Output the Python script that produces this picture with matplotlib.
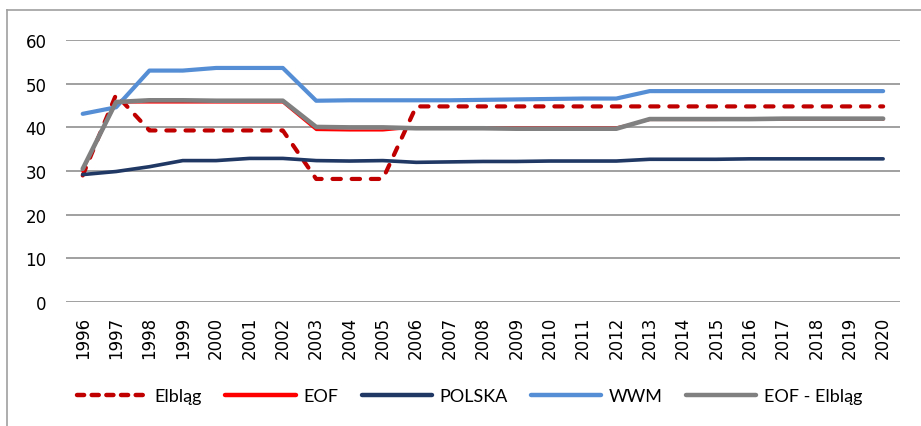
import matplotlib.pyplot as plt
from matplotlib.lines import Line2D

years = [str(y) for y in range(1996, 2021)]

elblag = [29.0, 47.5, 39.3, 39.3, 39.3, 39.3, 39.3, 28.2, 28.2, 28.2,
          44.8, 44.8, 44.8, 44.8, 44.8, 44.8, 44.8, 44.8, 44.8, 44.8,
          44.8, 44.8, 44.8, 44.8, 44.8]
eof = [30.0, 45.7, 45.7, 45.7, 45.7, 45.7, 45.7, 39.4, 39.3, 39.3,
       40.0, 40.0, 40.0, 40.0, 40.0, 40.0, 40.0, 41.7, 41.7, 41.7,
       41.8, 41.8, 41.8, 41.8, 41.8]
polska = [29.2, 29.9, 31.0, 32.4, 32.4, 32.9, 32.9, 32.4, 32.3, 32.4,
          32.0, 32.1, 32.2, 32.2, 32.3, 32.3, 32.3, 32.7, 32.7, 32.7,
          32.8, 32.8, 32.8, 32.8, 32.8]
wwm = [43.1, 44.6, 53.0, 53.0, 53.6, 53.6, 53.6, 46.1, 46.2, 46.2,
       46.2, 46.2, 46.3, 46.4, 46.5, 46.6, 46.6, 48.3, 48.3, 48.3,
       48.3, 48.3, 48.3, 48.3, 48.3]
eof_elblag = [30.5, 45.8, 46.2, 46.2, 46.1, 46.1, 46.1, 40.1, 40.0, 40.0,
              39.8, 39.8, 39.8, 39.7, 39.7, 39.7, 39.7, 41.9, 41.9, 41.9,
              41.9, 42.0, 42.0, 42.0, 42.0]

plt.rcParams['font.family'] = ['DejaVu Sans']

fig = plt.figure(figsize=(9.21, 4.27), dpi=100)
ax = fig.add_axes([0.0717, 0.290, 0.9053, 0.614])

x = range(len(years))
ax.plot(x, elblag, color='#C00000', lw=3, linestyle=(0, (2.0, 2.6)),
        dash_capstyle='round', label='Elbląg', zorder=3)
ax.plot(x, eof, color='#FF0000', lw=1.6, label='EOF', zorder=3)
ax.plot(x, polska, color='#1F3864', lw=2.6, solid_capstyle='round', label='POLSKA', zorder=3)
ax.plot(x, wwm, color='#558ED5', lw=3, solid_capstyle='round', label='WWM', zorder=3)
ax.plot(x, eof_elblag, color='#808080', lw=3.3, solid_capstyle='round', label='EOF - Elbląg', zorder=3)

ax.set_xlim(-0.5, len(years) - 0.5)
ax.set_ylim(0, 60)
ax.set_yticks(range(0, 61, 10))
ax.set_xticks(list(x))
ax.set_xticklabels(years, rotation=90)
ax.tick_params(axis='y', length=0, pad=14, labelsize=12, colors='#000000')
ax.tick_params(axis='x', length=0, pad=10, labelsize=12)
ax.grid(axis='y', color='#A0A0A0', lw=1.4, zorder=1)
for s in ax.spines.values():
    s.set_visible(False)

handles = [Line2D([], [], color='#C00000', lw=3.2, linestyle=(0, (1.6, 1.7)), dash_capstyle='round'),
           Line2D([], [], color='#FF0000', lw=3.2, solid_capstyle='round'),
           Line2D([], [], color='#1F3864', lw=3.2, solid_capstyle='round'),
           Line2D([], [], color='#558ED5', lw=3.2, solid_capstyle='round'),
           Line2D([], [], color='#808080', lw=3.2, solid_capstyle='round')]
labels = ['Elbląg', 'EOF', 'POLSKA', 'WWM', 'EOF - Elbląg']
fig.legend(handles, labels, loc='center left', bbox_to_anchor=(77 / 921, 1 - 397 / 427), ncol=5,
           frameon=False, borderpad=0, borderaxespad=0,
           prop={'family': ['Lato', 'DejaVu Sans'], 'size': 13},
           handlelength=3.9, handletextpad=0.4, columnspacing=1.3)

# outer chart border (left and top only visible)
fig.add_artist(Line2D([7 / 921, 7 / 921], [0, 1 - 11 / 427], color='#A0A0A0', lw=1.2,
                      transform=fig.transFigure))
fig.add_artist(Line2D([7 / 921, 1], [1 - 11 / 427, 1 - 11 / 427], color='#A0A0A0', lw=1.2,
                      transform=fig.transFigure))

fig.savefig('out.png', dpi=100)
